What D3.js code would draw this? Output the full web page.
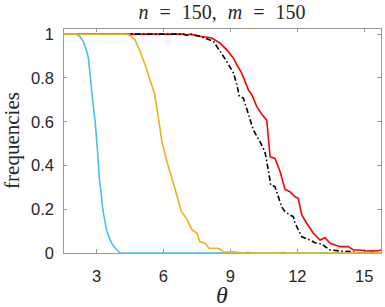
<!doctype html>
<html>
<head>
    <style>
        body { margin: 0; background: #fff; }
        .tick-label { font-family: "Liberation Sans", Arial, sans-serif; font-size: 16.5px; fill: #262626; }
        .serif { font-family: "Liberation Serif", "Times New Roman", serif; fill: #262626; }
    </style>
    <script src="https://d3js.org/d3.v7.min.js"></script>
</head>
<body>
<svg width="385" height="307"></svg>
<script>
    // values
    var blueTheta = [1.5, 2.1, 2.25, 2.42, 2.57, 2.64, 2.72, 2.79, 2.87, 2.94, 2.99, 3.05, 3.09, 3.13, 3.2, 3.27, 3.35, 3.47, 3.61, 3.69, 3.84, 4.05, 15.75];
    var blueFreq  = [1, 1, 0.99, 0.965, 0.92, 0.889, 0.81, 0.737, 0.66, 0.6, 0.54, 0.463, 0.40, 0.34, 0.28, 0.21, 0.16, 0.097, 0.06, 0.044, 0.023, 0, 0];

    var orangeTheta = [1.5, 4.4, 4.55, 4.73, 4.96, 5.18, 5.4, 5.6, 5.78, 5.93, 6.15, 6.38, 6.6, 6.8, 7.05, 7.27, 7.5, 7.63, 7.87, 8.05, 8.4, 8.55, 8.7, 9.1, 9.6, 9.8, 10.0, 11.2, 11.35, 11.5, 15.75];
    var orangeFreq  = [1, 1, 0.99, 0.973, 0.92, 0.86, 0.79, 0.73, 0.615, 0.51, 0.42, 0.34, 0.265, 0.19, 0.155, 0.108, 0.09, 0.052, 0.044, 0.022, 0.022, 0.017, 0.003, 0.006, 0, 0.003, 0, 0, 0.003, 0, 0];

    var redTheta = [1.5, 6.9, 7.05, 7.2, 7.64, 8.17, 8.54, 8.84, 9.14, 9.29, 9.51, 9.66, 9.81, 9.96, 10.18, 10.4, 10.63, 10.7, 10.78, 11.0, 11.23, 11.45, 11.67, 11.9, 12.04, 12.2, 12.42, 12.72, 13.02, 13.24, 13.47, 13.91, 14.28, 14.51, 14.81, 15.1, 15.33, 15.55, 15.75];
    var redFreq  = [1, 1, 0.995, 1, 0.99, 0.982, 0.959, 0.928, 0.89, 0.86, 0.822, 0.784, 0.744, 0.723, 0.67, 0.635, 0.607, 0.53, 0.44, 0.432, 0.371, 0.29, 0.28, 0.257, 0.25, 0.174, 0.136, 0.09, 0.059, 0.07, 0.044, 0.029, 0.029, 0.014, 0.014, 0.009, 0.01, 0.009, 0.014];

    var blackTheta = [1.5, 6.9, 7.05, 7.2, 7.64, 8.24, 8.54, 8.84, 9.14, 9.29, 9.4, 9.58, 9.73, 10.03, 10.33, 10.55, 10.7, 10.81, 11.0, 11.15, 11.3, 11.45, 11.67, 11.82, 11.9, 12.2, 12.57, 12.79, 13.1, 13.24, 13.47, 13.91, 14.44, 14.8, 15.75];
    var blackFreq  = [1, 1, 0.995, 1, 0.99, 0.967, 0.921, 0.875, 0.822, 0.769, 0.716, 0.708, 0.66, 0.562, 0.508, 0.463, 0.38, 0.31, 0.303, 0.257, 0.211, 0.189, 0.174, 0.166, 0.136, 0.074, 0.059, 0.047, 0.041, 0.029, 0.014, 0.009, 0.006, 0, 0];

    var xTicks = [3, 6, 9, 12, 15];
    var yTicks = [0, 0.2, 0.4, 0.6, 0.8, 1];
    var yTickLabels = ["0", "0.2", "0.4", "0.6", "0.8", "1"];

    var svg = d3.select("svg");
    var pLeft = 63, pRight = 381, pTop = 28, pBottom = 253;

    var x = d3.scaleLinear().domain([1.5, 15.75]).range([pLeft, pRight]);
    var y = d3.scaleLinear().domain([0, 1.028]).range([pBottom, pTop]);

    var axisColor = "#9a9a9a";

    // box with inner ticks on all four sides
    var g = svg.append("g").attr("shape-rendering", "crispEdges");
    g.append("rect")
     .attr("x", pLeft).attr("y", pTop)
     .attr("width", pRight - pLeft).attr("height", pBottom - pTop)
     .attr("fill", "none").attr("stroke", axisColor);

    var tl = 4;
    xTicks.forEach(function(t) {
        g.append("line").attr("x1", x(t)).attr("x2", x(t)).attr("y1", pBottom).attr("y2", pBottom - tl).attr("stroke", axisColor);
        g.append("line").attr("x1", x(t)).attr("x2", x(t)).attr("y1", pTop).attr("y2", pTop + tl).attr("stroke", axisColor);
    });
    yTicks.forEach(function(t) {
        g.append("line").attr("x1", pLeft).attr("x2", pLeft + tl).attr("y1", y(t)).attr("y2", y(t)).attr("stroke", axisColor);
        g.append("line").attr("x1", pRight).attr("x2", pRight - tl).attr("y1", y(t)).attr("y2", y(t)).attr("stroke", axisColor);
    });

    svg.selectAll(".xlab")
       .data(xTicks)
       .enter().append("text")
       .attr("class", "tick-label")
       .attr("x", function(d) { return x(d); })
       .attr("y", 282)
       .attr("text-anchor", "middle")
       .text(function(d) { return d; });

    svg.selectAll(".ylab")
       .data(yTicks)
       .enter().append("text")
       .attr("class", "tick-label")
       .attr("x", 54)
       .attr("y", function(d) { return y(d) + 6; })
       .attr("text-anchor", "end")
       .text(function(d, i) { return yTickLabels[i]; });

    // curves
    var line = d3.line()
        .x(function(d) { return x(d[0]); })
        .y(function(d) { return y(d[1]); });

    function series(th, fr) {
        return th.map(function(t, i) { return [t, fr[i]]; });
    }

    var plot = svg.append("g");
    plot.append("path").datum(series(redTheta, redFreq))
        .attr("d", line).attr("fill", "none").attr("stroke", "#ff0000").attr("stroke-width", 1.6);
    plot.append("path").datum(series(blackTheta, blackFreq))
        .attr("d", line).attr("fill", "none").attr("stroke", "#000").attr("stroke-width", 1.6)
        .attr("stroke-dasharray", "5.5,2.5,1.5,2.5");
    plot.append("path").datum(series(blueTheta, blueFreq))
        .attr("d", line).attr("fill", "none").attr("stroke", "#4dbeee").attr("stroke-width", 1.6);
    plot.append("path").datum(series(orangeTheta, orangeFreq))
        .attr("d", line).attr("fill", "none").attr("stroke", "#edb120").attr("stroke-width", 1.6);

    // labels
    var title = svg.append("text")
       .attr("class", "serif")
       .attr("x", 222).attr("y", 19)
       .attr("text-anchor", "middle")
       .attr("font-size", "20px")
       .attr("word-spacing", "6px");
    title.append("tspan").attr("font-style", "italic").text("n");
    title.append("tspan").text(" = 150, ");
    title.append("tspan").attr("font-style", "italic").text("m");
    title.append("tspan").text(" = 150");

    svg.append("text")
       .attr("class", "serif")
       .attr("transform", "translate(19," + ((pTop + pBottom) / 2) + ") rotate(-90)")
       .attr("text-anchor", "middle")
       .attr("font-size", "21px")
       .text("frequencies");

    svg.append("text")
       .attr("class", "serif")
       .attr("x", 222).attr("y", 303)
       .attr("text-anchor", "middle")
       .attr("font-size", "24px")
       .attr("font-style", "italic")
       .text("θ");
</script>
</body>
</html>
